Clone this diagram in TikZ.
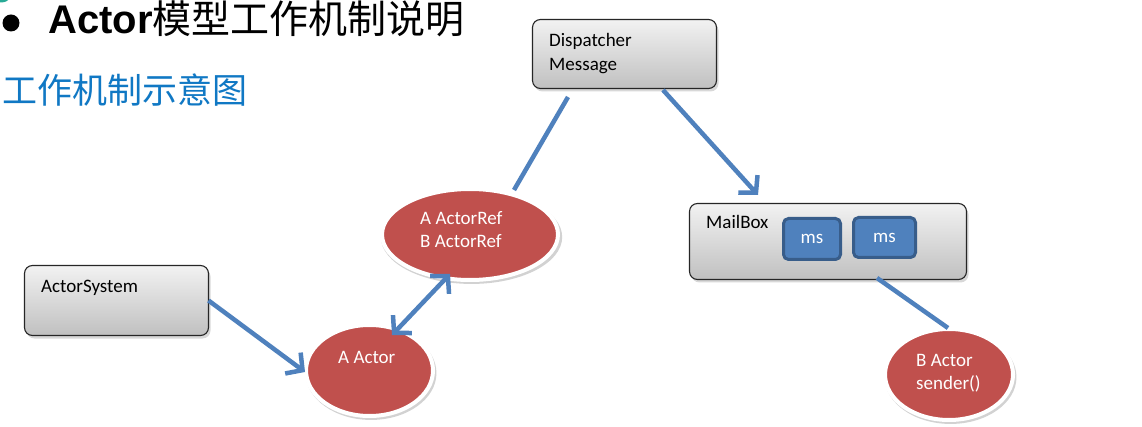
\documentclass[tikz,border=0pt]{standalone}
\usepackage{fontspec}
\setmainfont{Carlito}
\newfontfamily\cjk{Noto Sans CJK SC}
\newfontfamily\arialb{Liberation Sans}
\usetikzlibrary{arrows.meta,shapes.geometric,shadows,calc}
\definecolor{ared}{RGB}{192,80,77}
\definecolor{ablue}{RGB}{79,129,189}
\definecolor{adblue}{RGB}{56,93,138}
\definecolor{ttlblue}{RGB}{16,120,196}
\definecolor{boxtop}{RGB}{242,242,242}
\definecolor{boxbot}{RGB}{192,192,192}
\definecolor{teal1}{RGB}{40,170,150}
\begin{document}
\begin{tikzpicture}[x=1pt,y=-1pt,
  graybox/.style={rectangle, rounded corners=8pt, draw=black!85, line width=1.1pt,
     top color=boxtop, bottom color=boxbot, outer sep=0pt, inner sep=0pt,
     drop shadow={opacity=0.3, shadow xshift=2pt, shadow yshift=-3pt}},
  redell/.style={ellipse, fill=ared, draw=white, line width=4pt, outer sep=0pt, inner sep=0pt,
     drop shadow={opacity=0.35, shadow scale=1.03, shadow xshift=1.5pt, shadow yshift=-2.5pt}},
  msbox/.style={rectangle, rounded corners=5pt, fill=ablue, draw=adblue, line width=3pt,
     outer sep=0pt, inner sep=0pt, text=white, font=\fontsize{19}{23}\selectfont},
  dtext/.style={anchor=base west, inner sep=0pt, text width=140pt, align=flush left,
     font=\fontsize{19}{24}\selectfont},
  wtext/.style={dtext, text=white, font=\fontsize{19}{23}\selectfont},
  conn/.style={draw=ablue, line width=4.5pt},
  arr/.style={conn, -{Straight Barb[length=12pt,width=26pt]}},
  darr/.style={conn, {Straight Barb[length=12pt,width=26pt]}-{Straight Barb[length=12pt,width=26pt]}}
]
\useasboundingbox (0,0) rectangle (1142,427);
\fill[white] (0,0) rectangle (1142,427);
% corner fragment
\begin{scope}
\clip (0,0) rectangle (1142,427);
\fill[teal1] (1,-2) ellipse [x radius=8pt, y radius=4.5pt];
\end{scope}
% titles
\node[circle, fill=black, minimum size=17pt, inner sep=0pt] (bullet) at (11,23) {};
\node[anchor=base west, inner sep=0pt] (title) at (48,34)
  {\fontsize{40}{40}\selectfont\arialb\bfseries Actor\fontsize{39}{39}\selectfont\cjk\mdseries 模型工作机制说明};
\node[anchor=base west, inner sep=0pt, text=ttlblue] (subtitle) at (2,104)
  {\fontsize{35}{35}\selectfont\cjk 工作机制示意图};
% boxes
\node[graybox, minimum width=184pt, minimum height=69pt] (disp) at (624.5,54) {};
\node[dtext] (disptxt) at (549,47) {Dispatcher\\Message};
\node[graybox, minimum width=277pt, minimum height=76pt] (mbox) at (828,241.5) {};
\node[dtext] (mboxtxt) at (706,229) {MailBox};
\node[msbox, minimum width=57pt, minimum height=41pt] (ms1) at (812,239) {ms};
\node[msbox, minimum width=62pt, minimum height=40pt] (ms2) at (884.5,237.5) {ms};
\node[graybox, minimum width=184pt, minimum height=70pt] (asys) at (116.5,300.5) {};
\node[dtext] (asystxt) at (41,293) {ActorSystem};
% ellipses
\node[redell, minimum width=176pt, minimum height=91pt] (aref) at (470,234.5) {};
\node[wtext] (areftxt) at (420,225) {A ActorRef\\B ActorRef};
\node[redell, minimum width=127pt, minimum height=91pt] (aact) at (369.5,370.5) {};
\node[wtext] (aacttxt) at (338,363) {A Actor};
\node[redell, minimum width=128pt, minimum height=91pt] (bact) at (949,374.5) {};
\node[wtext] (bacttxt) at (916,366) {B Actor\\sender()};
% connectors
\draw[conn] ([shift={(-56.5,8.5)}]disp.south) -- ([shift={(44,1)}]aref.north);
\draw[arr] ([shift={(38.5,1.5)}]disp.south) -- ([shift={(-70,-8.5)}]mbox.north);
\draw[conn] ([shift={(49,-1.5)}]mbox.south) -- ([shift={(-1,-1)}]bact.north);
\draw[arr] (asys.east) -- ([shift={(-1,1.5)}]aact.west);
\draw[darr] ([shift={(22.5,10)}]aact.north) -- ([shift={(-20,-6)}]aref.south);
\end{tikzpicture}
\end{document}
